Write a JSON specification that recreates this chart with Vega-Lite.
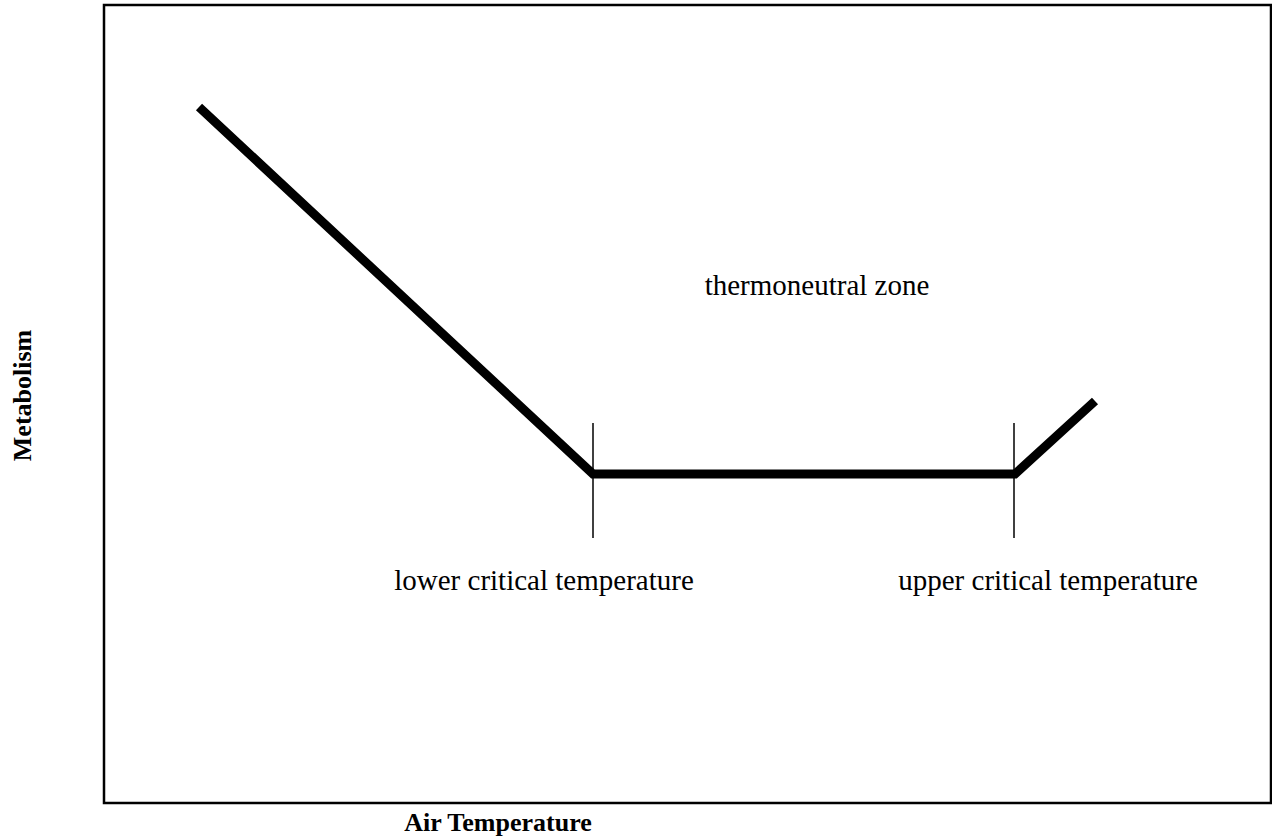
{
  "$schema": "https://vega.github.io/schema/vega-lite/v6.json",
  "width": 1167,
  "height": 798,
  "autosize": {"type": "none"},
  "padding": {"left": 104, "top": 5, "right": 1, "bottom": 34},
  "background": "white",
  "config": {
    "view": {"stroke": "black", "strokeWidth": 2.5},
    "font": "Liberation Serif"
  },
  "datasets": {
    "curve": [
      {"t": 95, "m": 696, "o": 1},
      {"t": 489, "m": 329, "o": 2},
      {"t": 911, "m": 329, "o": 3},
      {"t": 991, "m": 402, "o": 4}
    ],
    "marks": [
      {"t": 489, "m1": 265, "m2": 380},
      {"t": 910, "m1": 265, "m2": 380}
    ],
    "labels": [
      {"t": 713, "m": 508, "label": "thermoneutral zone"},
      {"t": 440, "m": 213, "label": "lower critical temperature"},
      {"t": 944, "m": 213, "label": "upper critical temperature"}
    ]
  },
  "layer": [
    {
      "data": {"name": "curve"},
      "mark": {"type": "line", "color": "black", "strokeWidth": 9, "strokeCap": "butt", "strokeJoin": "miter"},
      "encoding": {
        "x": {"field": "t", "type": "quantitative", "scale": {"domain": [0, 1167], "nice": false, "zero": false},
          "axis": {"title": "Air Temperature", "labels": false, "ticks": false, "domain": false, "grid": false,
            "titleFont": "Liberation Serif", "titleFontSize": 26, "titleFontWeight": "bold", "titleColor": "black",
            "titleX": 393.5, "titleY": 27, "titleAlign": "center", "titleBaseline": "alphabetic", "titlePadding": 0}},
        "y": {"field": "m", "type": "quantitative", "scale": {"domain": [0, 798], "nice": false, "zero": false},
          "axis": {"title": "Metabolism", "labels": false, "ticks": false, "domain": false, "grid": false,
            "titleFont": "Liberation Serif", "titleFontSize": 26, "titleFontWeight": "bold", "titleColor": "black",
            "titleX": -82, "titleY": 390, "titleAngle": -90, "titleAlign": "center", "titleBaseline": "middle"}},
        "order": {"field": "o", "type": "quantitative"}
      }
    },
    {
      "data": {"name": "marks"},
      "mark": {"type": "rule", "color": "black", "strokeWidth": 1.5},
      "encoding": {
        "x": {"field": "t", "type": "quantitative"},
        "y": {"field": "m1", "type": "quantitative"},
        "y2": {"field": "m2"}
      }
    },
    {
      "data": {"name": "labels"},
      "mark": {"type": "text", "font": "Liberation Serif", "fontSize": 29, "color": "black", "align": "center", "baseline": "alphabetic"},
      "encoding": {
        "x": {"field": "t", "type": "quantitative"},
        "y": {"field": "m", "type": "quantitative"},
        "text": {"field": "label"}
      }
    }
  ]
}
